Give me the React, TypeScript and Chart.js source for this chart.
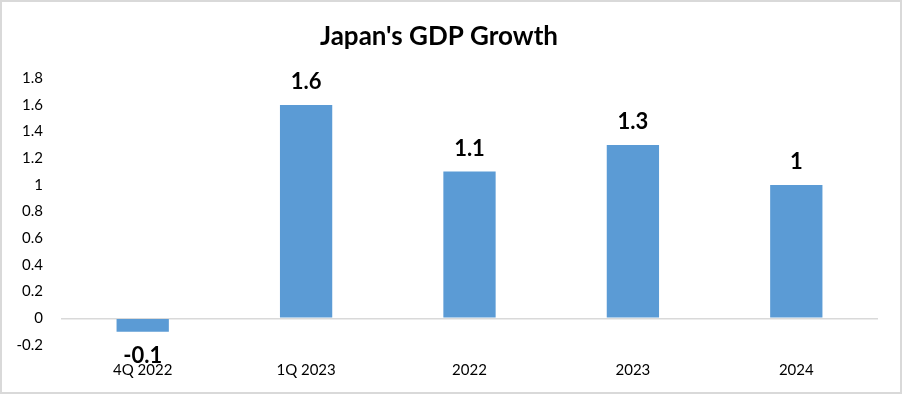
import React, { useEffect, useRef } from "react";
import { Chart, registerables } from "chart.js";

Chart.register(...registerables);

const categories = ["4Q 2022", "1Q 2023", "2022", "2023", "2024"];
const growth = [-0.1, 1.6, 1.1, 1.3, 1];
const valueLabels = ["-0.1", "1.6", "1.1", "1.3", "1"];
const titleText = "Japan's GDP Growth";

const FONT = "Lato, 'Open Sans', sans-serif";

const framePlugin = {
  id: "frame",
  beforeDraw(chart: any) {
    const { ctx, width, height } = chart;
    ctx.save();
    ctx.fillStyle = "#ffffff";
    ctx.fillRect(0, 0, width, height);
    ctx.strokeStyle = "#d9d9d9";
    ctx.lineWidth = 2;
    ctx.strokeRect(1, 1, width - 2, height - 2);
    ctx.restore();
  },
};

const labelPlugin = {
  id: "valueLabels",
  afterDatasetsDraw(chart: any) {
    const { ctx } = chart;
    const meta = chart.getDatasetMeta(0);
    ctx.save();
    ctx.font = `bold 22px ${FONT}`;
    ctx.fillStyle = "#000000";
    ctx.textAlign = "center";
    ctx.textBaseline = "middle";
    meta.data.forEach((bar: any, i: number) => {
      const v = growth[i];
      const y = v >= 0 ? bar.y - 23 : bar.y + 24;
      ctx.fillText(valueLabels[i], bar.x, y);
    });
    ctx.restore();
  },
};

export default function App() {
  const ref = useRef<HTMLCanvasElement>(null);
  useEffect(() => {
    if (!ref.current) return;
    const chart = new Chart(ref.current, {
      type: "bar",
      data: {
        labels: categories,
        datasets: [
          {
            data: growth,
            backgroundColor: "#5b9bd5",
            barPercentage: 0.32,
            categoryPercentage: 1,
          },
        ],
      },
      options: {
        animation: false,
        responsive: false,
        maintainAspectRatio: false,
        layout: { padding: { left: 0, right: 24, top: 0, bottom: 0 } },
        plugins: {
          legend: { display: false },
          tooltip: { enabled: false },
          title: {
            display: true,
            text: titleText,
            color: "#000000",
            font: { family: FONT, size: 26, weight: "bold" },
            padding: { top: 21, bottom: 26 },
          },
        },
        scales: {
          x: {
            afterFit: (s: any) => {
              s.height = 49;
            },
            grid: { display: false, drawTicks: false },
            border: { display: false },
            ticks: {
              color: "#000000",
              font: { family: FONT, size: 15 },
              padding: 16,
              maxRotation: 0,
            },
          },
          y: {
            min: -0.2,
            max: 1.8,
            afterFit: (s: any) => {
              s.width = 61;
            },
            border: { display: false },
            grid: {
              drawTicks: false,
              lineWidth: 1.5,
              color: (c: any) =>
                c.tick && Math.abs(c.tick.value) < 1e-9 ? "#d9d9d9" : "rgba(0,0,0,0)",
            },
            ticks: {
              stepSize: 0.2,
              color: "#000000",
              padding: 18,
              font: { family: FONT, size: 15 },
              callback: (v: any) => String(Math.round(Number(v) * 10) / 10),
            },
          },
        },
      },
      plugins: [framePlugin, labelPlugin],
    });
    return () => chart.destroy();
  }, []);
  return (
    <div style={{ position: "fixed", left: 0, top: 0, width: 902, height: 394 }}>
      <canvas ref={ref} width={902} height={394} style={{ display: "block" }} />
    </div>
  );
}
